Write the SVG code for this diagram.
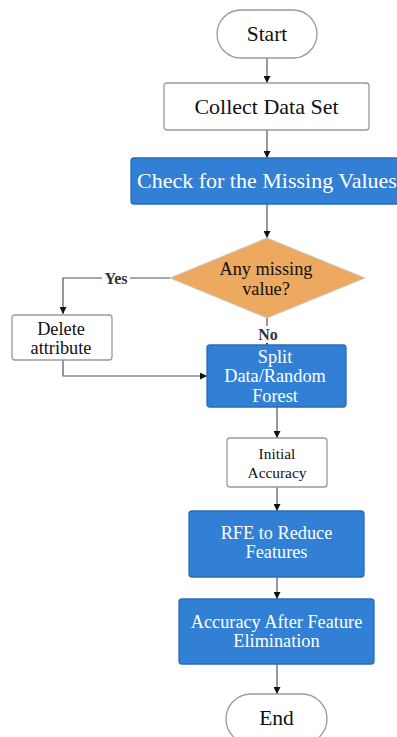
<svg xmlns="http://www.w3.org/2000/svg" width="397" height="737" viewBox="0 0 397 737">
<style>
.w{fill:#fff;stroke:#9a9a9a;stroke-width:1.3}
.b{fill:#3180d6;stroke:#2a6bb5;stroke-width:1.3}
.t{fill:#111;text-anchor:middle}
.tw{fill:#fff;text-anchor:middle}
.c{fill:none;stroke:#555;stroke-width:1.2}
.lbl{font-weight:bold;fill:#333;text-anchor:middle;font-size:16px}
</style>
<defs>
<marker id="ah" viewBox="0 0 10 10" refX="10" refY="5" markerWidth="7" markerHeight="7" orient="auto" markerUnits="userSpaceOnUse">
<path d="M0,0 L10,5 L0,10 z" fill="#111"/>
</marker>
</defs>
<rect width="397" height="737" fill="#fff"/>
<g id="connectors">
<path class="c" d="M267,58 V83" marker-end="url(#ah)"/>
<path class="c" d="M267,130 V158" marker-end="url(#ah)"/>
<path class="c" d="M267,204 V238" marker-end="url(#ah)"/>
<path class="c" d="M170,278 H63 V314" marker-end="url(#ah)"/>
<path class="c" d="M267,318 V345" marker-end="url(#ah)"/>
<path class="c" d="M63,360 V376 H207" marker-end="url(#ah)"/>
<path class="c" d="M277,407 V438" marker-end="url(#ah)"/>
<path class="c" d="M277,487 V511" marker-end="url(#ah)"/>
<path class="c" d="M277,577 V599" marker-end="url(#ah)"/>
<path class="c" d="M277,664 V694" marker-end="url(#ah)"/>
<rect x="102" y="270" width="28" height="16" fill="#fff"/>
<text class="lbl" x="116" y="284" font-family="Liberation Serif">Yes</text>
<rect x="256" y="326" width="23" height="17" fill="#fff"/>
<text class="lbl" x="268" y="340" font-family="Liberation Serif">No</text>
</g>
<g id="start">
<rect class="w" x="217" y="10" width="100" height="48" rx="24"/>
<text class="t" x="267" y="41" font-size="21.5" font-family="Liberation Serif">Start</text>
</g>
<g id="collect">
<rect class="w" x="164" y="83" width="205" height="47" rx="3"/>
<text class="t" x="266.5" y="114" font-size="22" font-family="Liberation Serif">Collect Data Set</text>
</g>
<g id="check">
<rect class="b" x="131" y="158" width="280" height="46" rx="3"/>
<text class="tw" x="137" y="188" font-size="22" font-family="Liberation Serif" style="text-anchor:start">Check for the Missing Values</text>
</g>
<g id="decision">
<polygon points="267,238 365,278 267,318 170,278" fill="#eda95f" stroke="#c9c9c9" stroke-width="1"/>
<text class="t" x="266" y="275" font-size="18.3" font-family="Liberation Serif">Any missing</text>
<text class="t" x="266" y="295" font-size="18.3" font-family="Liberation Serif">value?</text>
</g>
<g id="delete">
<rect class="w" x="12" y="315" width="100" height="45" rx="3"/>
<text class="t" x="61" y="335" font-size="18.3" font-family="Liberation Serif">Delete</text>
<text class="t" x="61" y="354" font-size="18.3" font-family="Liberation Serif">attribute</text>
</g>
<g id="split">
<rect class="b" x="207" y="345" width="139" height="62" rx="3"/>
<text class="tw" x="275" y="363" font-size="18.3" font-family="Liberation Serif">Split</text>
<text class="tw" x="275" y="382" font-size="18.3" font-family="Liberation Serif">Data/Random</text>
<text class="tw" x="275" y="402" font-size="18.3" font-family="Liberation Serif">Forest</text>
</g>
<g id="initial">
<rect class="w" x="227" y="438" width="100" height="49" rx="3"/>
<text class="t" x="277" y="459" font-size="15.4" font-family="Liberation Serif">Initial</text>
<text class="t" x="277" y="478" font-size="15.4" font-family="Liberation Serif">Accuracy</text>
</g>
<g id="rfe">
<rect class="b" x="189" y="511" width="175" height="66" rx="3"/>
<text class="tw" x="276.5" y="539" font-size="18.3" font-family="Liberation Serif">RFE to Reduce</text>
<text class="tw" x="276.5" y="558" font-size="18.3" font-family="Liberation Serif">Features</text>
</g>
<g id="accafter">
<rect class="b" x="179" y="599" width="195" height="65" rx="3"/>
<text class="tw" x="276.5" y="628" font-size="18.3" font-family="Liberation Serif">Accuracy After Feature</text>
<text class="tw" x="276.5" y="647" font-size="18.3" font-family="Liberation Serif">Elimination</text>
</g>
<g id="end">
<rect class="w" x="226" y="694" width="101" height="50" rx="25"/>
<text class="t" x="276.5" y="725" font-size="21.5" font-family="Liberation Serif">End</text>
</g>
</svg>
